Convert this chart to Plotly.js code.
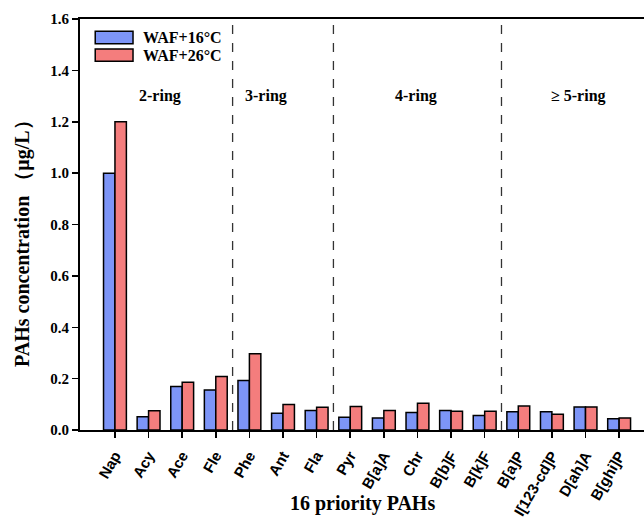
<!DOCTYPE html>
<html>
<head>
<meta charset="utf-8">
<script src="https://cdn.plot.ly/plotly-3.0.1.min.js"></script>
<style>html,body{margin:0;padding:0;background:#fff;}#chart{width:644px;height:521px;}</style>
</head>
<body>
<div id="chart"></div>
<script>
const categories = ["Nap","Acy","Ace","Fle","Phe","Ant","Fla","Pyr","B[a]A","Chr","B[b]F","B[k]F","B[a]P","I[123-cd]P","D[ah]A","B[ghi]P"];
const waf16 = [1.00,0.052,0.169,0.156,0.193,0.065,0.076,0.050,0.047,0.068,0.076,0.056,0.071,0.071,0.090,0.044];
const waf26 = [1.20,0.075,0.186,0.208,0.297,0.099,0.089,0.091,0.076,0.104,0.073,0.073,0.093,0.061,0.090,0.047];
const seriesNames = ["WAF+16°C","WAF+26°C"];
const seriesColors = ["#7d95f7","#f47d7d"];
const ringLabels = ["2-ring","3-ring","4-ring","≥ 5-ring"];
const ringLabelPos = [1.35,4.5,8.95,13.8];
const dividerPos = [3.5,6.5,11.5];
const xTitle = "16 priority PAHs";
const yTitle = "PAHs concentration （μg/L）";

const serif = "Liberation Serif, Times New Roman, serif";
const traces = seriesNames.map((n,i) => ({type:"bar", name:n, x:categories, y:[waf16,waf26][i],
   marker:{color:seriesColors[i], line:{color:"#000", width:1.5}}}));

const shapes = dividerPos.map(p => ({type:"line", xref:"x", yref:"paper", x0:p, x1:p, y0:0, y1:1,
  line:{color:"#333", width:1.3, dash:"dash"}}));
// custom legend (wide boxes like the reference)
const legY = [0.955, 0.912];
seriesNames.forEach((n,i) => {
  shapes.push({type:"rect", xref:"paper", yref:"paper", x0:0.027, x1:0.094, y0:legY[i]-0.015, y1:legY[i]+0.015,
    fillcolor:seriesColors[i], line:{color:"#000", width:1.5}});
});
const annotations = ringLabels.map((t,i) => ({x:ringLabelPos[i], y:1.3, xref:"x", yref:"y", text:t, showarrow:false,
  font:{family:serif, size:16, color:"#000", weight:"bold"}}));
seriesNames.forEach((n,i) => {
  annotations.push({x:0.108, y:legY[i], xref:"paper", yref:"paper", xanchor:"left", yanchor:"middle",
    text:n, showarrow:false, font:{family:serif, size:16, color:"#000", weight:"bold"}});
});
annotations.push({x:0.5, y:-0.212, xref:"paper", yref:"paper", xanchor:"center", yanchor:"bottom",
  text:xTitle, showarrow:false, font:{family:serif, size:20, color:"#000", weight:"bold"}});
annotations.push({x:-0.103, y:0.467, xref:"paper", yref:"paper", xanchor:"center", yanchor:"middle",
  textangle:-90, text:yTitle, showarrow:false, font:{family:serif, size:20, color:"#000", weight:"bold"}});

const layout = {
  width:644, height:521,
  margin:{l:80, r:0, t:19, b:91},
  paper_bgcolor:"#fff", plot_bgcolor:"#fff",
  barmode:"group", bargap:0.32, bargroupgap:0,
  showlegend:false,
  xaxis:{range:[-1.04,15.74], showline:true, linecolor:"#000", linewidth:2, mirror:true,
    ticks:"outside", ticklen:6, tickwidth:1.5, tickcolor:"#000", tickangle:-60, ticklabelstandoff:3,
    tickfont:{family:"Liberation Sans, Arial, sans-serif", size:15, color:"#000", weight:"bold"},
    showgrid:false, zeroline:false, automargin:false},
  yaxis:{range:[0,1.6], dtick:0.2, tickformat:".1f", showline:true, linecolor:"#000", linewidth:2,
    ticks:"outside", ticklen:6, tickwidth:1.5, tickcolor:"#000",
    tickfont:{family:serif, size:15, color:"#000", weight:"bold"},
    showgrid:false, zeroline:false, automargin:false},
  shapes:shapes, annotations:annotations
};
Plotly.newPlot("chart", traces, layout, {displayModeBar:false, staticPlot:true});
</script>
</body>
</html>
